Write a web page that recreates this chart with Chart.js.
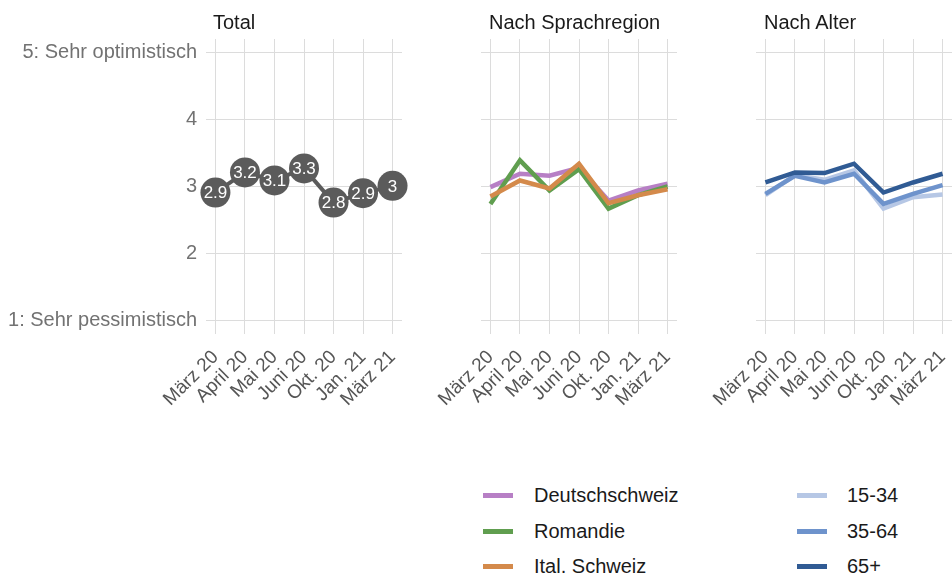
<!DOCTYPE html>
<html><head><meta charset="utf-8">
<script src="https://cdn.jsdelivr.net/npm/chart.js@4/dist/chart.umd.min.js"></script>
<style>
html,body{margin:0;padding:0;background:#fff;overflow:hidden;width:952px;height:575px;}
#wrap{position:relative;width:952px;height:575px;overflow:hidden;font-family:"Liberation Sans",Arial,Helvetica,sans-serif;}
canvas{position:absolute;top:0;}
.title{position:absolute;top:10px;font-size:20px;color:#1a1a1a;line-height:24px;white-space:nowrap;}
.leg{position:absolute;font-size:20px;color:#1a1a1a;line-height:24px;white-space:nowrap;}
.sw{position:absolute;width:30px;height:5px;}
</style></head>
<body>
<div id="wrap">
  <canvas id="c1" width="410" height="440" style="left:0px;width:410px;height:440px"></canvas>
  <canvas id="c2" width="274" height="440" style="left:411px;width:274px;height:440px"></canvas>
  <canvas id="c3" width="274" height="440" style="left:686px;width:274px;height:440px"></canvas>
  <div class="title" style="left:213px">Total</div>
  <div class="title" style="left:489px">Nach Sprachregion</div>
  <div class="title" style="left:764px">Nach Alter</div>
  <div id="legend"></div>
</div>
<script>
const categories = ['März 20','April 20','Mai 20','Juni 20','Okt. 20','Jan. 21','März 21'];
const yTickValues = [1,2,3,4,5];
const yTickLabels = ['1: Sehr pessimistisch','2','3','4','5: Sehr optimistisch'];

const totalValues = [2.91,3.21,3.09,3.27,2.76,2.90,3.01];

const regionNames = ['Deutschschweiz','Romandie','Ital. Schweiz'];
const deutschschweiz = [2.99,3.19,3.16,3.28,2.79,2.94,3.04];
const romandie       = [2.74,3.39,2.94,3.26,2.67,2.87,3.00];
const italSchweiz    = [2.85,3.09,2.97,3.34,2.75,2.87,2.96];

const ageNames = ['15-34','35-64','65+'];
const age1534 = [2.87,3.17,3.10,3.24,2.67,2.84,2.88];
const age3564 = [2.89,3.16,3.06,3.19,2.74,2.89,3.02];
const age65   = [3.06,3.21,3.20,3.34,2.91,3.06,3.19];

const regionColors = ['#b77fc5','#609e4f','#d48a4b'];
const ageColors = ['#b6c7e5','#6e93cc','#305b94'];
const totalColor = '#5b5b5b';

const FONT = '"Liberation Sans", Arial, Helvetica, sans-serif';
const CANVAS_H = 440;
const GRID = '#dcdcdc';

const toPts = arr => arr.map((v,i)=>({x:i,y:v}));
const fmt = v => String(Number(v.toFixed(1)));

const pointLabelPlugin = {
  id:'pointLabels',
  afterDatasetsDraw(chart){
    chart.data.datasets.forEach((ds,di)=>{
      if(!ds.pointText) return;
      const meta = chart.getDatasetMeta(di);
      const ctx = chart.ctx;
      ctx.save();
      ctx.fillStyle = '#ffffff';
      ctx.font = '17px ' + FONT;
      ctx.textAlign = 'center';
      ctx.textBaseline = 'middle';
      meta.data.forEach((el,i)=>ctx.fillText(ds.pointText[i], el.x, el.y+1));
      ctx.restore();
    });
  }
};

function makeOptions(showY){
  return {
    responsive:false, maintainAspectRatio:false, animation:false,
    layout:{autoPadding:false,padding:{top:39,right:8,bottom:0,left:0}},
    plugins:{legend:{display:false},tooltip:{enabled:false},title:{display:false}},
    scales:{
      x:{
        type:'linear', min:-0.32, max:6.32,
        afterBuildTicks:s=>{ s.ticks = categories.map((c,i)=>({value:i})); },
        afterFit:s=>{ s.height = CANVAS_H - 334; s.paddingLeft = 0; s.paddingRight = 0; },
        grid:{color:GRID,lineWidth:1,drawTicks:false},
        border:{display:false},
        ticks:{autoSkip:false,maxRotation:45,minRotation:45,padding:12,color:'#555555',
               font:{size:19,family:FONT},callback:v=>categories[Math.round(v)]}
      },
      y:{
        type:'linear', min:0.8, max:5.2,
        afterBuildTicks:s=>{ s.ticks = yTickValues.map(v=>({value:v})); },
        afterFit:s=>{ s.width = showY ? 206 : 70; s.paddingTop = 0; s.paddingBottom = 0; },
        grid:{color:GRID,lineWidth:1,drawTicks:false},
        border:{display:false},
        ticks:{display:showY,padding:9,color:'#727272',font:{size:20,family:FONT},
               callback:v=>yTickLabels[yTickValues.indexOf(Math.round(v))]}
      }
    }
  };
}

new Chart(document.getElementById('c1'),{
  type:'line',
  data:{datasets:[{
    data:toPts(totalValues), pointText:totalValues.map(fmt),
    borderColor:totalColor, backgroundColor:totalColor, borderWidth:4,
    pointRadius:15, pointBackgroundColor:totalColor, pointBorderWidth:0, tension:0, clip:20
  }]},
  options:makeOptions(true),
  plugins:[pointLabelPlugin]
});

const lineDs = (vals,color,order)=>({data:toPts(vals),borderColor:color,backgroundColor:color,
  borderWidth:4.5,pointRadius:0,tension:0,order:order,borderJoinStyle:'miter'});

new Chart(document.getElementById('c2'),{
  type:'line',
  data:{datasets:[
    lineDs(deutschschweiz,regionColors[0],3),
    lineDs(romandie,regionColors[1],2),
    lineDs(italSchweiz,regionColors[2],1)
  ]},
  options:makeOptions(false)
});

new Chart(document.getElementById('c3'),{
  type:'line',
  data:{datasets:[
    lineDs(age1534,ageColors[0],3),
    lineDs(age3564,ageColors[1],2),
    lineDs(age65,ageColors[2],1)
  ]},
  options:makeOptions(false)
});

// legend
const legend = document.getElementById('legend');
const rowsY = [495,531,566];
function addLegend(names,colors,swX,txtX){
  names.forEach((n,i)=>{
    const sw=document.createElement('div'); sw.className='sw';
    sw.style.left=swX+'px'; sw.style.top=(rowsY[i]-2.5)+'px'; sw.style.background=colors[i];
    legend.appendChild(sw);
    const t=document.createElement('div'); t.className='leg';
    t.style.left=txtX+'px'; t.style.top=(rowsY[i]-12)+'px'; t.textContent=n;
    legend.appendChild(t);
  });
}
addLegend(regionNames,regionColors,483,534);
addLegend(ageNames,ageColors,797,847);
</script>
</body></html>
